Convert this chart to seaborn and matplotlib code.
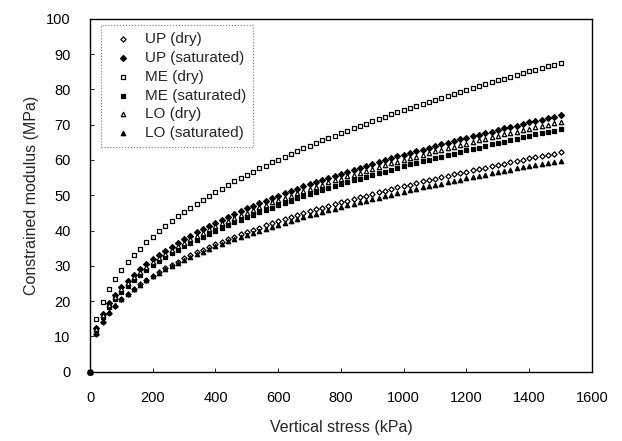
import matplotlib
matplotlib.use("Agg")
import matplotlib.pyplot as plt
import seaborn as sns
import pandas as pd

stress = list(range(0, 1501, 20))

up_dry = [0, 10.6, 14.1, 16.6, 18.7, 20.5, 22.0, 23.5, 24.8, 26.0, 27.2,
          28.3, 29.3, 30.3, 31.2, 32.1, 33.0, 33.8, 34.6, 35.4, 36.1,
          36.8, 37.6, 38.2, 38.9, 39.6, 40.2, 40.8, 41.5, 42.1, 42.7,
          43.2, 43.8, 44.4, 44.9, 45.4, 46.0, 46.5, 47.0, 47.5, 48.0,
          48.5, 49.0, 49.4, 49.9, 50.4, 50.8, 51.3, 51.7, 52.2, 52.6,
          53.0, 53.4, 53.9, 54.3, 54.7, 55.1, 55.5, 55.9, 56.3, 56.7,
          57.1, 57.4, 57.8, 58.2, 58.6, 58.9, 59.3, 59.7, 60.0, 60.4,
          60.7, 61.1, 61.4, 61.8, 62.1]
up_sat = [0, 12.4, 16.4, 19.4, 21.8, 23.9, 25.8, 27.4, 29.0, 30.4, 31.8,
          33.0, 34.2, 35.4, 36.5, 37.5, 38.5, 39.5, 40.4, 41.3, 42.2,
          43.1, 43.9, 44.7, 45.5, 46.3, 47.0, 47.7, 48.5, 49.2, 49.9,
          50.5, 51.2, 51.8, 52.5, 53.1, 53.7, 54.3, 54.9, 55.5, 56.1,
          56.7, 57.2, 57.8, 58.3, 58.9, 59.4, 59.9, 60.4, 61.0, 61.5,
          62.0, 62.5, 62.9, 63.4, 63.9, 64.4, 64.9, 65.3, 65.8, 66.2,
          66.7, 67.1, 67.6, 68.0, 68.4, 68.9, 69.3, 69.7, 70.1, 70.6,
          71.0, 71.4, 71.8, 72.2, 72.6]
me_dry = [0, 14.9, 19.8, 23.4, 26.3, 28.8, 31.1, 33.1, 34.9, 36.7, 38.3,
          39.8, 41.3, 42.6, 44.0, 45.2, 46.4, 47.6, 48.7, 49.8, 50.9,
          51.9, 52.9, 53.9, 54.8, 55.8, 56.7, 57.6, 58.4, 59.3, 60.1,
          60.9, 61.7, 62.5, 63.3, 64.0, 64.8, 65.5, 66.2, 66.9, 67.6,
          68.3, 69.0, 69.7, 70.3, 71.0, 71.6, 72.2, 72.9, 73.5, 74.1,
          74.7, 75.3, 75.9, 76.5, 77.0, 77.6, 78.2, 78.7, 79.3, 79.8,
          80.4, 80.9, 81.5, 82.0, 82.5, 83.0, 83.5, 84.0, 84.6, 85.1,
          85.6, 86.0, 86.5, 87.0, 87.5]
me_sat = [0, 11.7, 15.5, 18.4, 20.7, 22.6, 24.4, 26.0, 27.4, 28.8, 30.1,
          31.3, 32.4, 33.5, 34.5, 35.5, 36.5, 37.4, 38.3, 39.1, 40.0,
          40.8, 41.6, 42.3, 43.1, 43.8, 44.5, 45.2, 45.9, 46.5, 47.2,
          47.8, 48.5, 49.1, 49.7, 50.3, 50.8, 51.4, 52.0, 52.5, 53.1,
          53.6, 54.2, 54.7, 55.2, 55.7, 56.2, 56.7, 57.2, 57.7, 58.2,
          58.7, 59.1, 59.6, 60.0, 60.5, 60.9, 61.4, 61.8, 62.3, 62.7,
          63.1, 63.5, 64.0, 64.4, 64.8, 65.2, 65.6, 66.0, 66.4, 66.8,
          67.2, 67.6, 67.9, 68.3, 68.7]
lo_dry = [0, 12.1, 16.0, 18.9, 21.3, 23.3, 25.1, 26.8, 28.3, 29.7, 31.0,
          32.2, 33.4, 34.5, 35.6, 36.6, 37.6, 38.5, 39.4, 40.3, 41.2,
          42.0, 42.8, 43.6, 44.4, 45.1, 45.9, 46.6, 47.3, 48.0, 48.6,
          49.3, 49.9, 50.6, 51.2, 51.8, 52.4, 53.0, 53.6, 54.2, 54.7,
          55.3, 55.8, 56.4, 56.9, 57.4, 58.0, 58.5, 59.0, 59.5, 60.0,
          60.5, 60.9, 61.4, 61.9, 62.4, 62.8, 63.3, 63.7, 64.2, 64.6,
          65.1, 65.5, 65.9, 66.4, 66.8, 67.2, 67.6, 68.0, 68.4, 68.8,
          69.2, 69.6, 70.0, 70.4, 70.8]
lo_sat = [0, 10.9, 14.3, 16.8, 18.8, 20.5, 22.1, 23.4, 24.7, 25.9, 27.0,
          28.0, 29.0, 29.9, 30.8, 31.7, 32.5, 33.3, 34.0, 34.8, 35.5,
          36.2, 36.9, 37.5, 38.1, 38.8, 39.4, 40.0, 40.5, 41.1, 41.7,
          42.2, 42.7, 43.3, 43.8, 44.3, 44.8, 45.3, 45.7, 46.2, 46.7,
          47.1, 47.6, 48.0, 48.5, 48.9, 49.3, 49.7, 50.2, 50.6, 51.0,
          51.4, 51.8, 52.2, 52.5, 52.9, 53.3, 53.7, 54.1, 54.4, 54.8,
          55.1, 55.5, 55.8, 56.2, 56.5, 56.9, 57.2, 57.6, 57.9, 58.2,
          58.5, 58.9, 59.2, 59.5, 59.8]

series_names = ["UP (dry)", "UP (saturated)", "ME (dry)", "ME (saturated)",
                "LO (dry)", "LO (saturated)"]
series_values = [up_dry, up_sat, me_dry, me_sat, lo_dry, lo_sat]
x_ticks = [0, 200, 400, 600, 800, 1000, 1200, 1400, 1600]
y_ticks = [0, 10, 20, 30, 40, 50, 60, 70, 80, 90, 100]

sns.set_theme(style="white")
plt.rcParams["font.family"] = ["Liberation Sans", "DejaVu Sans"]

markers = ["D", "D", "s", "s", "^", "^"]
filled = [False, True, False, True, False, True]
sizes = [7, 9, 9, 9, 10, 10]

fig = plt.figure(figsize=(6.22, 4.41), dpi=100)
ax = fig.add_axes([0.1447, 0.1571, 0.807, 0.8005])

for name, vals, m, f, s in zip(series_names, series_values, markers, filled, sizes):
    df = pd.DataFrame({"stress": stress, "modulus": vals})
    sns.scatterplot(data=df, x="stress", y="modulus", ax=ax, marker=m, s=s,
                    facecolor="black" if f else "white", edgecolor="black",
                    linewidth=0.9, label=name, zorder=3, clip_on=False)

ax.set_xlim(0, 1600)
ax.set_ylim(0, 100)
ax.set_xticks(x_ticks)
ax.set_yticks(y_ticks)
ax.tick_params(axis="both", direction="in", length=3, width=0.6,
               labelsize=10.5, pad=14, colors="black", left=True, bottom=True)
for sp in ax.spines.values():
    sp.set_color("black")
    sp.set_linewidth(1.0)
ax.set_xlabel("Vertical stress (kPa)", fontsize=11.5, labelpad=11)
ax.set_ylabel("Constrained modulus (MPa)", fontsize=11.5, labelpad=5)

leg = ax.legend(loc="upper left", bbox_to_anchor=(0.022, 0.982), frameon=True,
                borderaxespad=0, fontsize=11, handletextpad=0.4, borderpad=0.45,
                labelspacing=0.32, handlelength=2.0, markerscale=1.0,
                fancybox=False)
fr = leg.get_frame()
fr.set_edgecolor("#555555")
fr.set_linestyle(":")
fr.set_linewidth(0.8)

fig.savefig("out.png", dpi=100)
